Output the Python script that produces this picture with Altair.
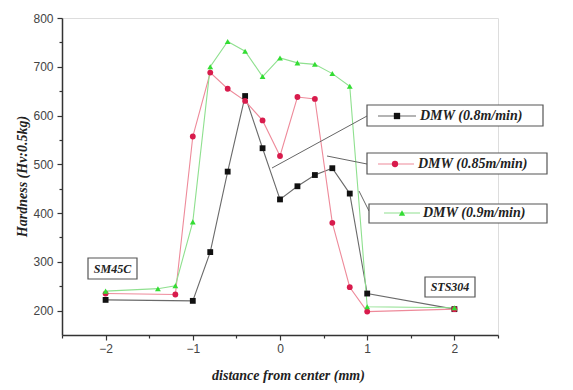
import altair as alt
import pandas as pd

# ---------------- data ----------------
series = ["DMW (0.8m/min)", "DMW (0.85m/min)", "DMW (0.9m/min)"]
x_08 = [-2, -1, -0.8, -0.6, -0.4, -0.2, 0, 0.2, 0.4, 0.6, 0.8, 1, 2]
y_08 = [222, 220, 320, 485, 640, 533, 428, 455, 478, 492, 440, 235, 203]
x_085 = [-2, -1.2, -1, -0.8, -0.6, -0.4, -0.2, 0, 0.2, 0.4, 0.6, 0.8, 1, 2]
y_085 = [235, 233, 557, 688, 655, 630, 590, 517, 638, 634, 380, 248, 198, 203]
x_09 = [-2, -1.4, -1.2, -1, -0.8, -0.6, -0.4, -0.2, 0, 0.2, 0.4, 0.6, 0.8, 1, 2]
y_09 = [240, 245, 251, 382, 700, 752, 732, 680, 718, 708, 705, 686, 660, 208, 206]
materials = ["SM45C", "STS304"]

y_ticks = list(range(200, 801, 50))
x_ticks = [-2.5, -2, -1.5, -1, -0.5, 0, 0.5, 1, 1.5, 2, 2.5]

# ---------------- styles ----------------
line_colors = ["#6a6a6a", "#ee8a9a", "#8fe08f"]
marker_colors = ["#111111", "#d81b4c", "#33dd33"]
shapes = ["square", "circle", "triangle-up"]
SERIF = "Liberation Serif"
SANS = "Liberation Sans"
W, H = 436, 317

rows = []
for name, xs, ys in zip(series, [x_08, x_085, x_09], [y_08, y_085, y_09]):
    for i, (xv, yv) in enumerate(zip(xs, ys)):
        rows.append({"series": name, "x": xv, "y": yv, "order": i})
df = pd.DataFrame(rows)

xscale = alt.Scale(domain=[-2.5, 2.5], nice=False, zero=False)
yscale = alt.Scale(domain=[150, 800], nice=False, zero=False)

x_axis = alt.Axis(
    values=x_ticks, format="~g",
    labelExpr="datum.value % 1 == 0 ? datum.label : ''",
    tickSize={"condition": {"test": "datum.value % 1 != 0", "value": 3}, "value": 5},
    grid=False, domainColor="#333333", domainWidth=1.5, tickColor="#333333",
    tickWidth=1.2, labelFont=SANS, labelFontSize=12, labelColor="#444444",
    labelPadding=3, title="distance from center (mm)", titleFont=SERIF,
    titleFontSize=14, titleFontStyle="italic", titleFontWeight="bold",
    titleColor="#222222", titleX=226, titleY=40, titleBaseline="middle",
)
y_axis = alt.Axis(
    values=y_ticks,
    labelExpr="datum.value % 100 == 0 ? datum.label : ''",
    tickSize={"condition": {"test": "datum.value % 100 != 0", "value": 3}, "value": 5},
    grid=False, domainColor="#333333", domainWidth=1.5, tickColor="#333333",
    tickWidth=1.2, labelFont=SANS, labelFontSize=12, labelColor="#444444",
    labelPadding=4, title="Hardness (Hv:0.5kg)", titleFont=SERIF,
    titleFontSize=14, titleFontStyle="italic", titleFontWeight="bold",
    titleColor="#222222", titleX=-40, titleY=158, titleBaseline="middle",
)

base = alt.Chart(df).encode(
    x=alt.X("x:Q", scale=xscale, axis=x_axis),
    y=alt.Y("y:Q", scale=yscale, axis=y_axis),
    order="order:Q",
)
lines = base.mark_line(strokeWidth=1.1).encode(
    color=alt.Color("series:N", scale=alt.Scale(domain=series, range=line_colors), legend=None),
    detail="series:N",
)
points = base.mark_point(filled=True, opacity=1, size=34).encode(
    color=alt.Color("series:N", scale=alt.Scale(domain=series, range=marker_colors), legend=None),
    shape=alt.Shape("series:N", scale=alt.Scale(domain=series, range=shapes), legend=None),
)

# ---------------- annotation boxes (pixel layout) ----------------
boxes = pd.DataFrame({
    "x": [305, 305, 307, 26, 363],
    "x2": [481, 485, 485, 75, 413],
    "y": [87, 135, 186, 240, 259],
    "y2": [108, 156, 205, 261, 279],
})
box_layer = alt.Chart(boxes).mark_rect(fill="white", stroke="#555555", strokeWidth=1.2).encode(
    x=alt.X("x:Q", scale=None), x2="x2:Q", y=alt.Y("y:Q", scale=None), y2="y2:Q"
)

connectors = pd.DataFrame({
    "x": [305, 305, 307], "y": [98, 146, 193],
    "x2": [210, 265, 297], "y2": [150, 138, 173],
})
conn_layer = alt.Chart(connectors).mark_rule(color="#666666", strokeWidth=1).encode(
    x=alt.X("x:Q", scale=None), y=alt.Y("y:Q", scale=None), x2="x2:Q", y2="y2:Q"
)

leg = pd.DataFrame({
    "series": series,
    "lx": [316, 316, 322], "lx2": [354, 352, 358],
    "mx": [335, 333, 340], "my": [98, 146, 195],
    "tx": [358, 356, 361],
})
leg_lines = alt.Chart(leg).mark_rule(strokeWidth=1.1).encode(
    x=alt.X("lx:Q", scale=None), x2="lx2:Q", y=alt.Y("my:Q", scale=None),
    color=alt.Color("series:N", scale=alt.Scale(domain=series, range=line_colors), legend=None),
)
leg_pts = alt.Chart(leg).mark_point(filled=True, opacity=1, size=40).encode(
    x=alt.X("mx:Q", scale=None), y=alt.Y("my:Q", scale=None),
    color=alt.Color("series:N", scale=alt.Scale(domain=series, range=marker_colors), legend=None),
    shape=alt.Shape("series:N", scale=alt.Scale(domain=series, range=shapes), legend=None),
)
leg_text = alt.Chart(leg).mark_text(
    align="left", baseline="middle", font=SERIF, fontSize=14, fontStyle="italic",
    fontWeight="bold", color="#222222",
).encode(x=alt.X("tx:Q", scale=None), y=alt.Y("my:Q", scale=None), text="series:N")

mat = pd.DataFrame({"name": materials, "x": [50.5, 388], "y": [251, 269]})
mat_text = alt.Chart(mat).mark_text(
    align="center", baseline="middle", font=SERIF, fontSize=12, fontStyle="italic",
    fontWeight="bold", color="#222222",
).encode(x=alt.X("x:Q", scale=None), y=alt.Y("y:Q", scale=None), text="name:N")

chart = alt.layer(
    lines, points, conn_layer, box_layer, leg_lines, leg_pts, leg_text, mat_text
).resolve_scale(color="independent", shape="independent").properties(
    width=W, height=H,
    autosize=alt.AutoSizeParams(type="none"),
    padding={"left": 54, "top": 10, "right": 60, "bottom": 50},
).configure_view(stroke=None).configure(background="white")

chart.save("out.html", embed_options={"renderer": "svg", "actions": False})
